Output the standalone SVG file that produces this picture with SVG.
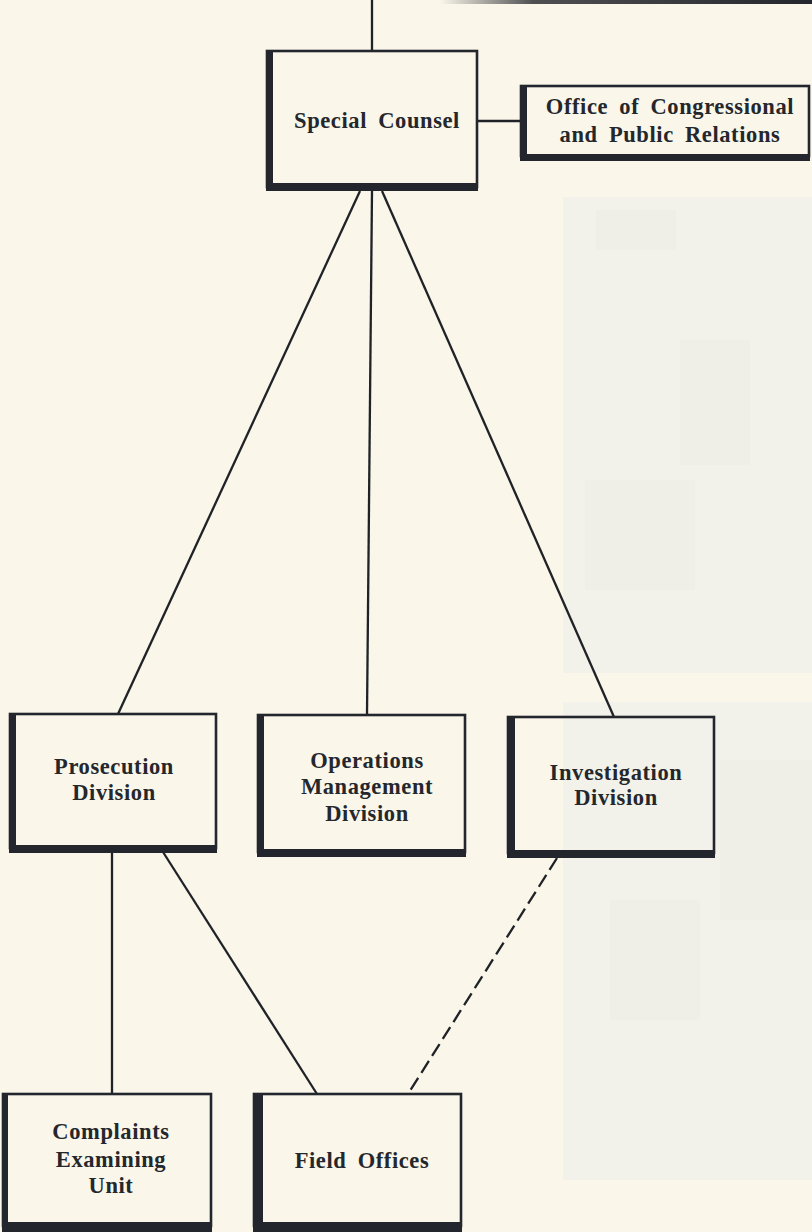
<svg xmlns="http://www.w3.org/2000/svg" width="812" height="1232" viewBox="0 0 812 1232">
  <defs>
    <style>
      .paper { fill: #faf6ea; }
      .photo { fill: #f3f2ea; }
      .photo2 { fill: #efeee7; }
      .frame { fill: none; stroke: #23262c; stroke-width: 2.6; }
      .bar { fill: #23262c; }
      .lbl { font-family: "Liberation Serif", "Times New Roman", serif; font-weight: bold; font-size: 22.5px; fill: #24272c; text-anchor: middle; letter-spacing: 0.6px; word-spacing: 5px; }
      .conn { fill: none; stroke: #1f2227; stroke-width: 2.3; }
      .dash { stroke-dasharray: 14 6; }
    </style>
    <linearGradient id="topbar" x1="0" y1="0" x2="1" y2="0">
      <stop offset="0" stop-color="#23262c" stop-opacity="0"/>
      <stop offset="0.25" stop-color="#23262c" stop-opacity="0.8"/>
      <stop offset="1" stop-color="#23262c" stop-opacity="1"/>
    </linearGradient>
  </defs>

  <rect class="paper" x="0" y="0" width="812" height="1232"/>

  <!-- faint show-through of photographs from the page behind -->
  <g id="background-photos">
    <rect class="photo" x="563" y="197" width="249" height="476"/>
    <rect class="photo2" x="596" y="210" width="80" height="40"/>
    <rect class="photo2" x="680" y="340" width="70" height="125"/>
    <rect class="photo2" x="585" y="480" width="110" height="110"/>
    <rect class="photo" x="563" y="702" width="249" height="478"/>
    <rect class="photo2" x="610" y="900" width="90" height="120"/>
    <rect class="photo2" x="720" y="760" width="92" height="160"/>
  </g>

  <!-- box above (cut off at top) -->
  <rect x="440" y="0" width="372" height="4" fill="url(#topbar)"/>

  <g id="connectors">
    <line class="conn" x1="372" y1="0" x2="372" y2="51"/>
    <line class="conn" x1="478" y1="121" x2="521" y2="121"/>
    <line class="conn" x1="360" y1="191" x2="118" y2="714"/>
    <line class="conn" x1="372" y1="191" x2="367" y2="715"/>
    <line class="conn" x1="382" y1="191" x2="614" y2="717"/>
    <line class="conn" x1="112" y1="852" x2="112" y2="1094"/>
    <line class="conn" x1="163" y1="852" x2="317" y2="1094"/>
    <line class="conn dash" x1="557" y1="858" x2="408" y2="1094"/>
  </g>

  <g id="special-counsel">
    <rect class="frame" x="267" y="51" width="210" height="136"/>
    <rect class="bar" x="266" y="50" width="7" height="141"/>
    <rect class="bar" x="266" y="183" width="212" height="8"/>
    <text class="lbl" x="377" y="128">Special Counsel</text>
  </g>

  <g id="office-congressional-public-relations">
    <rect class="frame" x="521" y="86" width="288" height="70"/>
    <rect class="bar" x="520" y="85" width="7" height="76"/>
    <rect class="bar" x="520" y="154" width="290" height="7"/>
    <text class="lbl" x="670" y="114">Office of Congressional</text>
    <text class="lbl" x="670" y="142">and Public Relations</text>
  </g>

  <g id="prosecution-division">
    <rect class="frame" x="10" y="714" width="206" height="134"/>
    <rect class="bar" x="9" y="713" width="7" height="140"/>
    <rect class="bar" x="9" y="845" width="208" height="8"/>
    <text class="lbl" x="114" y="774">Prosecution</text>
    <text class="lbl" x="114" y="800">Division</text>
  </g>

  <g id="operations-management-division">
    <rect class="frame" x="258" y="715" width="207" height="137"/>
    <rect class="bar" x="257" y="714" width="7" height="143"/>
    <rect class="bar" x="257" y="849" width="209" height="8"/>
    <text class="lbl" x="367" y="768">Operations</text>
    <text class="lbl" x="367" y="794">Management</text>
    <text class="lbl" x="367" y="821">Division</text>
  </g>

  <g id="investigation-division">
    <rect class="frame" x="508" y="717" width="206" height="136"/>
    <rect class="bar" x="507" y="716" width="8" height="142"/>
    <rect class="bar" x="507" y="850" width="208" height="8"/>
    <text class="lbl" x="616" y="780">Investigation</text>
    <text class="lbl" x="616" y="805">Division</text>
  </g>

  <g id="complaints-examining-unit">
    <rect class="frame" x="3" y="1094" width="208" height="132"/>
    <rect class="bar" x="2" y="1093" width="6" height="139"/>
    <rect class="bar" x="2" y="1222" width="210" height="10"/>
    <text class="lbl" x="111" y="1139">Complaints</text>
    <text class="lbl" x="111" y="1167">Examining</text>
    <text class="lbl" x="111" y="1193">Unit</text>
  </g>

  <g id="field-offices">
    <rect class="frame" x="254" y="1094" width="207" height="132"/>
    <rect class="bar" x="253" y="1093" width="10" height="139"/>
    <rect class="bar" x="253" y="1222" width="209" height="10"/>
    <text class="lbl" x="362" y="1168">Field Offices</text>
  </g>
</svg>
